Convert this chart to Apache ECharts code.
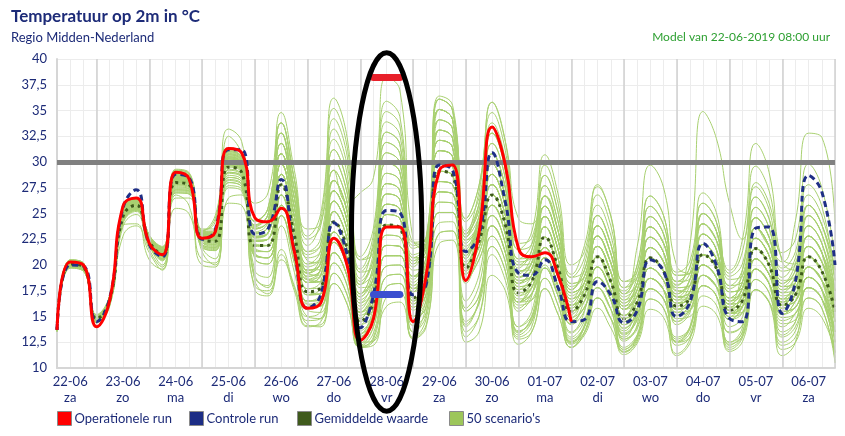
<!DOCTYPE html>
<html><head><meta charset="utf-8">
<script src="https://cdn.jsdelivr.net/npm/echarts@6/dist/echarts.min.js"></script>
<style>html,body{margin:0;padding:0;background:#fff}#c{width:845px;height:436px}</style>
</head><body><div id="c"></div>
<script>
// ---- data ----
const hours = [6,12,18,24,30,36,42,48,54,60,66,72,78,84,90,96,102,108,114,120,126,132,138,144,150,156,162,168,174,180,186,192,198,204,210,216,222,228,234,240,246,252,258,264,270,276,282,288,294,300,306,312,318,324,330,336,342,348,354,360];
const dateLabels = ['22-06','23-06','24-06','25-06','26-06','27-06','28-06','29-06','30-06','01-07','02-07','03-07','04-07','05-07','06-07'];
const dayLabels = ['za','zo','ma','di','wo','do','vr','za','zo','ma','di','wo','do','vr','za'];
const yTicks = [10,12.5,15,17.5,20,22.5,25,27.5,30,32.5,35,37.5,40];
const legendNames = ['Operationele run','Controle run','Gemiddelde waarde',"50 scenario's"];

const operational = [13.7,20.3,20.0, 14.0,16.6,25.7,26.5, 22.1,21.0,29.0,28.4, 22.6,23.2,31.3,30.9, 24.6,24.2,25.5,21.3, 15.8,16.3,22.6,20.0, 12.7,14.8,23.7,23.7, 14.5,19.0,29.2,29.7, 18.5,23.1,33.4,29.7, 21.6,20.8,21.2,19.0, 14.5];
const control = [13.7,20.0,19.9, 14.5,16.8,25.5,27.3, 22.0,20.8,28.8,28.5, 22.5,23.4,31.2,31.2, 23.0,23.5,28.3,21.4, 15.8,17.1,24.1,21.0, 13.9,17.1,25.3,25.1, 17.1,18.1,29.7,29.2, 21.3,22.9,30.9,26.1, 19.2,19.0,20.5,17.8, 14.5,14.7,18.4,17.1, 14.4,15.6,20.5,19.4, 15.0,16.4,22.1,20.0, 14.8,14.5,23.6,23.7, 15.3,18.4,28.7,27.1, 20.0];
const ensembleMean = [13.7,20.1,19.8, 14.8,16.6,24.7,25.8, 22.3,21.0,28.0,27.8, 22.5,22.3,29.5,29.0, 21.9,21.9,27.8,22.9, 17.4,17.8,24.2,21.6, 14.5,16.4,23.9,23.6, 16.8,18.4,29.1,28.7, 19.7,22.3,26.8,23.9, 17.3,18.4,22.7,19.7, 15.5,17.1,20.8,18.4, 14.8,16.4,20.7,19.4, 16.0,16.8,21.0,19.7, 15.6,16.6,21.6,20.0, 16.1,17.1,20.8,19.4, 15.5];

const scen01 = [13.9,20.4,20.1, 15.0,16.9,25.2,26.3, 22.7,21.5,28.8,28.5, 23.2,23.2,31.0,30.4, 23.6,24.3,31.8,26.5, 20.1,20.8,29.2,26.1, 27.0,28.5,38.2,37.0, 22.5,21.4,34.1,33.2, 22.1,24.1,29.8,26.6, 18.8,19.6,24.7,21.5, 16.1,17.1,20.8,18.4, 14.5,15.8,19.7,18.5, 16.0,17.4,22.0,20.6, 16.5,17.8,23.6,21.8, 17.6,18.9,23.8,22.1, 16.5];
const scen02 = [13.6,19.9,19.6, 14.6,16.3,24.2,25.4, 21.9,20.0,27.0,26.9, 21.7,21.4,28.0,27.6, 18.8,18.0,24.8,20.5, 14.6,14.8,20.2,18.0, 12.0,13.0,18.9,19.1, 13.5,15.2,27.1,26.9, 15.5,17.0,23.8,21.2, 13.6,14.5,18.7,16.1, 12.4,14.2,18.8,16.6, 11.8,13.0,17.7,16.7, 12.6,13.9,19.0,17.9, 12.3,13.2,18.6,17.3, 12.2,13.0,16.8,15.8, 11.0];
const scen03 = [13.8,20.3,20.0, 15.0,16.8,25.0,26.1, 22.5,21.3,28.5,28.3, 23.0,22.9,30.5,29.9, 23.7,24.9,32.8,27.4, 21.3,22.6,32.2,28.8, 17.8,18.2,26.9,26.3, 18.9,20.8,33.1,32.3, 22.7,25.9,32.8,29.3, 20.3,20.8,26.7,23.3, 17.3,18.3,22.8,20.2, 15.7,17.0,21.7,20.3, 16.3,16.8,21.0,19.7, 15.3,16.0,20.6,19.1, 16.4,18.3,22.8,21.2, 15.5];
const scen04 = [13.6,19.8,19.5, 14.4,16.0,23.7,24.9, 21.5,19.8,26.5,26.5, 21.3,20.0,26.5,26.8, 19.0,17.8,23.8,19.3, 14.2,14.0,19.2,17.1, 12.5,12.6,17.9,18.2, 12.8,14.0,23.1,23.3, 14.2,16.5,22.8,20.3, 13.4,15.0,20.7,17.9, 13.0,14.6,19.8,17.5, 13.2,14.8,20.7,19.4, 16.3,17.4,22.0,20.6, 16.5,17.8,23.6,21.8, 17.0,17.7,21.8,20.3, 16.5];
const scen05 = [13.8,20.2,19.9, 15.0,17.0,25.3,26.3, 22.8,21.6,29.0,28.7, 23.4,24.2,33.2,32.0, 24.2,25.5,33.8,28.3, 22.8,25.0,36.2,32.4, 20.5,21.2,31.9,30.8, 21.0,22.0,35.1,34.1, 22.4,24.1,29.8,26.6, 18.5,19.0,23.7,20.6, 15.5,16.5,19.8,17.5, 13.9,15.2,18.7,17.6, 15.1,16.2,20.0,18.8, 15.3,16.6,21.6,20.0, 15.5,15.9,18.8,17.6, 13.5];
const scen06 = [13.7,20.1,19.8, 14.9,16.7,24.9,26.0, 22.5,21.2,28.3,28.1, 22.7,22.6,30.0,29.5, 22.7,23.1,29.8,24.7, 18.6,19.0,26.2,23.4, 16.3,18.8,27.9,27.2, 18.9,20.2,32.1,31.4, 23.0,27.1,34.8,31.1, 21.5,22.0,28.7,25.1, 18.2,18.9,23.8,21.1, 16.3,17.6,22.7,21.2, 16.9,17.4,22.0,20.6, 16.8,18.4,24.6,22.7, 18.2,19.5,24.8,23.0, 17.5];
const scen07 = [13.5,19.7,19.4, 14.6,16.4,24.4,25.5, 22.0,20.7,27.5,27.4, 22.0,21.7,28.5,28.1, 21.3,21.3,26.8,22.0, 16.5,16.6,22.2,19.8, 13.0,14.6,20.9,20.9, 14.7,16.0,25.1,25.1, 14.5,16.2,21.8,19.4, 12.8,13.5,17.7,15.2, 12.0,13.5,17.8,15.7, 11.8,13.2,18.7,17.6, 12.5,13.4,18.0,17.0, 12.2,13.6,19.6,18.2, 15.2,16.5,19.8,18.5, 13.5];
const scen08 = [13.9,20.5,20.2, 15.2,17.1,25.5,26.5, 22.9,21.7,29.2,28.9, 23.2,22.9,30.5,29.9, 23.1,23.7,30.8,25.6, 19.5,20.2,28.2,25.2, 18.7,22.4,33.9,32.6, 21.9,22.6,36.1,35.0, 22.4,23.5,28.8,25.7, 17.9,18.4,22.7,19.7, 15.8,17.7,21.8,19.3, 16.0,18.2,23.7,22.1, 18.4,19.8,26.0,24.2, 18.9,20.2,27.6,25.4, 19.4,20.1,25.8,23.9, 18.5];
const scen09 = [13.7,20.0,19.7, 14.7,16.5,24.5,25.6, 22.3,21.1,28.2,28.0, 22.7,22.5,29.8,29.3, 22.3,22.5,28.8,23.8, 17.4,17.2,23.2,20.7, 13.6,15.2,21.9,21.8, 16.5,19.0,30.1,29.6, 20.6,23.5,28.8,25.7, 18.8,20.2,25.7,22.4, 17.6,19.5,24.8,22.0, 17.8,20.0,26.7,24.8, 19.0,19.2,25.0,23.3, 17.4,17.8,23.6,21.8, 16.7,17.1,20.8,19.4, 14.5];
const scen10 = [13.8,20.3,20.0, 15.0,16.8,25.1,26.2, 22.5,21.1,28.2,28.0, 22.4,22.0,29.0,28.6, 21.2,20.7,25.8,21.1, 15.9,16.0,21.2,18.9, 13.3,15.8,22.9,22.7, 15.9,17.2,27.1,26.9, 19.1,22.3,26.8,23.9, 17.6,19.0,23.7,20.6, 16.4,18.3,22.8,20.2, 15.7,17.0,21.7,20.3, 16.3,16.8,21.0,19.7, 15.3,16.0,20.6,19.1, 14.9,15.3,17.8,16.7, 11.5];
const scen11 = [13.9,20.4,20.1, 15.0,16.7,24.9,26.0, 22.5,21.4,28.6,28.3, 23.0,23.0,30.7,30.1, 23.5,24.3,31.8,26.5, 19.5,19.6,27.2,24.3, 17.2,20.0,29.9,29.0, 20.4,22.0,35.1,34.1, 23.0,25.3,31.8,28.4, 19.4,19.6,24.7,21.5, 16.1,17.1,20.8,18.4, 17.5,21.8,29.7,27.5, 19.9,19.2,25.0,23.3, 17.4,17.8,23.6,21.8, 20.3,24.3,32.8,32.4, 24.0];
const scen12 = [13.6,19.9,19.6, 14.6,16.2,24.1,25.3, 21.9,20.5,27.2,27.1, 21.9,21.6,28.3,27.9, 20.9,20.7,25.8,21.1, 16.5,17.2,23.2,20.7, 14.2,16.4,23.9,23.6, 16.5,17.8,28.1,27.8, 18.5,20.5,23.8,21.2, 15.8,17.2,20.7,17.9, 12.5,13.5,16.8,14.8, 11.3,12.4,15.7,14.9, 11.4,12.8,18.0,17.0, 11.6,12.6,17.6,16.4, 11.2,12.5,18.8,17.6, 10.5];
const scen13 = [13.8,20.2,19.9, 14.9,16.7,24.8,25.9, 22.5,21.2,28.4,28.2, 22.9,22.8,30.3,29.7, 22.7,23.1,29.8,24.7, 18.3,18.4,25.2,22.5, 15.4,17.6,25.9,25.4, 18.6,20.8,33.1,32.3, 22.7,25.9,32.8,29.3, 21.5,23.2,30.7,26.9, 20.0,21.3,27.8,24.7, 18.4,19.4,25.7,23.9, 18.4,18.6,24.0,22.4, 16.8,17.2,22.6,20.9, 16.1,16.5,19.8,18.5, 15.5];
const scen14 = [13.7,20.1,19.8, 14.7,16.4,24.4,25.5, 22.2,20.9,27.8,27.6, 22.6,22.7,30.1,29.5, 22.1,21.9,27.8,22.9, 18.3,19.6,27.2,24.3, 16.9,19.4,28.9,28.1, 18.9,19.6,31.1,30.5, 20.0,21.7,25.8,23.0, 16.1,16.6,19.7,17.0, 13.4,14.7,16.8,14.8, 13.0,15.2,18.7,17.6, 15.4,16.8,21.0,19.7, 16.2,17.8,23.6,21.8, 17.9,19.5,24.8,23.0, 18.5];
const scen15 = [13.6,19.8,19.5, 14.5,16.1,23.9,24.0, 20.5,19.6,26.8,25.8, 20.0,19.8,27.5,27.2, 17.6,17.0,21.0,17.5, 14.0,14.5,18.2,16.2, 12.0,12.2,16.9,17.3, 13.5,16.0,25.1,25.1, 13.5,15.0,21.0,18.5, 13.0,14.0,20.0,17.5, 13.5,15.5,21.8,19.3, 13.8,15.5,22.7,21.2, 14.2,15.4,21.0,19.7, 13.4,14.2,19.6,18.2, 13.0,14.0,17.8,16.7, 11.5];
const scen16 = [13.8,20.3,20.0, 15.1,17.0,25.4,26.4, 22.9,21.8,29.3,29.0, 23.5,23.5,32.5,30.8, 24.3,25.5,33.8,28.3, 21.3,22.0,31.2,27.9, 19.3,21.8,32.9,31.7, 20.7,20.8,33.1,32.3, 21.2,22.9,27.8,24.8, 17.3,17.8,21.7,18.8, 14.6,15.9,18.8,16.6, 14.2,16.4,20.7,19.4, 18.0,22.0,34.9,32.3, 26.0,22.5,28.0,26.0, 20.6,20.1,25.8,23.9, 19.5];
const scen17 = [13.7,20.0,19.7, 14.8,16.6,24.7,25.8, 22.2,20.8,27.7,27.5, 22.2,21.8,28.7,28.3, 21.1,20.7,25.8,21.1, 16.2,16.6,22.2,19.8, 13.0,14.6,20.9,20.9, 15.0,16.6,26.1,26.0, 18.2,21.1,24.8,22.1, 16.4,17.8,21.7,18.8, 15.2,17.1,20.8,18.4, 14.5,15.8,19.7,18.5, 15.1,15.6,19.0,17.9, 14.7,16.0,20.6,19.1, 15.8,17.1,20.8,19.4, 16.5];
const scen18 = [13.9,20.4,20.1, 15.0,16.8,25.1,26.2, 22.7,21.5,28.8,28.5, 23.0,22.9,30.5,29.9, 23.1,23.7,30.8,25.6, 20.1,21.4,30.2,27.0, 19.6,23.0,34.9,33.5, 22.2,22.6,36.1,35.0, 24.5,27.7,35.8,32.0, 22.1,22.6,29.7,26.0, 18.8,19.5,24.8,22.0, 16.9,18.2,23.7,22.1, 17.5,18.0,23.0,21.5, 16.2,16.6,21.6,20.0, 15.5,15.9,18.8,17.6, 13.5];
const scen19 = [13.6,19.9,19.6, 14.6,16.4,24.3,25.4, 22.2,21.0,28.0,27.8, 22.6,22.4,29.7,29.2, 21.7,21.3,26.8,22.0, 17.1,17.8,24.2,21.6, 14.8,17.0,24.9,24.5, 17.7,19.6,31.1,30.5, 20.3,22.3,26.8,23.9, 16.7,17.2,20.7,17.9, 12.8,14.0,17.8,15.7, 11.5,12.6,16.7,15.8, 11.2,12.4,16.0,15.2, 11.8,13.0,17.6,16.4, 12.5,13.6,17.8,16.7, 13.5];
const scen20 = [13.7,20.1,19.8, 14.9,16.7,24.9,26.0, 22.5,21.3,28.5,28.3, 22.9,22.8,30.3,29.7, 22.7,23.1,29.8,24.7, 19.2,20.2,28.2,25.2, 16.6,18.2,26.9,26.3, 17.7,18.4,29.1,28.7, 19.1,21.1,24.8,22.1, 16.4,17.8,21.7,18.8, 15.5,17.7,21.8,19.3, 16.0,18.2,23.7,22.1, 18.1,19.2,25.0,23.3, 19.2,21.4,29.6,27.2, 21.2,22.5,29.8,27.5, 20.5];
const scen21 = [13.9,20.5,20.2, 15.1,17.0,25.3,26.3, 22.8,21.6,29.0,28.7, 23.3,23.2,31.0,30.4, 23.9,24.9,32.8,27.4, 23.5,24.0,33.2,29.7, 20.8,23.6,35.9,34.4, 22.2,22.0,35.1,34.1, 23.3,25.9,32.8,29.3, 20.0,20.2,25.7,22.4, 16.7,17.7,21.8,19.3, 15.1,16.4,20.7,19.4, 15.7,16.2,20.0,18.8, 14.7,15.4,19.6,18.2, 14.6,15.3,17.8,16.7, 12.5];
const scen22 = [13.5,19.7,19.4, 14.5,16.2,24.0,25.2, 21.8,20.4,27.0,26.9, 21.7,20.6,27.7,27.4, 18.5,17.2,21.5,18.0, 15.0,15.5,21.2,18.9, 12.4,14.0,19.9,20.0, 14.1,15.4,24.1,24.2, 12.5,13.5,19.0,17.5, 12.3,13.5,17.7,15.2, 12.0,14.0,17.8,15.7, 13.6,15.8,19.7,18.5, 15.7,16.8,21.0,19.7, 15.9,17.2,22.6,20.9, 16.4,17.1,20.8,19.4, 14.5];
const scen23 = [13.8,20.2,19.9, 14.9,16.8,25.0,26.1, 22.6,21.4,28.6,28.3, 22.8,22.5,29.9,29.4, 22.3,22.5,28.8,23.8, 18.3,19.0,26.2,23.4, 15.1,16.4,23.9,23.6, 16.5,17.8,28.1,27.8, 19.7,22.9,27.8,24.8, 18.2,19.6,24.7,21.5, 16.1,17.1,20.8,18.4, 14.2,15.2,18.7,17.6, 15.1,16.2,20.0,18.8, 15.6,17.2,22.6,20.9, 17.3,18.9,23.8,22.1, 17.5];
const scen24 = [13.7,20.0,19.7, 14.8,16.7,24.8,25.9, 22.4,21.1,28.2,28.0, 22.7,22.5,29.8,29.3, 22.3,22.5,28.8,23.8, 19.2,20.8,29.2,26.1, 18.1,20.6,30.9,29.9, 20.7,22.0,35.1,34.1, 22.7,24.7,30.8,27.5, 20.0,21.4,27.7,24.2, 18.8,20.7,26.8,23.8, 17.8,18.8,24.7,23.0, 17.8,18.0,23.0,21.5, 16.2,16.6,21.6,20.0, 15.5,15.9,18.8,17.6, 14.5];
const scen25 = [13.8,20.3,20.0, 15.0,16.9,25.2,26.3, 22.7,21.5,28.9,28.6, 23.2,23.1,30.9,30.3, 23.5,24.3,31.8,26.5, 19.2,19.0,26.2,23.4, 15.4,17.0,24.9,24.5, 18.0,20.2,32.1,31.4, 21.2,23.5,28.8,25.7, 17.9,18.4,22.7,19.7, 14.9,15.9,18.8,16.6, 13.3,14.6,17.7,16.7, 14.5,15.6,19.0,17.9, 16.5,19.6,26.6,24.5, 19.7,21.3,27.8,25.7, 18.5];
const scen26 = [13.6,19.8,19.5, 14.6,16.3,24.2,25.4, 22.0,20.8,27.6,27.4, 22.2,21.9,28.9,28.5, 21.1,20.7,25.8,21.1, 15.6,15.4,20.2,18.0, 12.1,12.8,17.9,18.2, 12.9,14.2,22.1,22.4, 14.0,16.5,23.8,21.2, 14.0,15.5,21.7,18.8, 14.6,15.9,18.8,16.6, 12.0,13.2,16.7,15.8, 12.5,13.8,19.0,17.9, 15.0,16.6,21.6,20.0, 16.4,17.7,21.8,20.3, 15.5];
const scen27 = [13.7,20.1,19.8, 14.7,16.5,24.5,25.6, 22.4,21.2,28.4,28.2, 22.8,22.7,30.2,29.6, 23.0,23.7,30.8,25.6, 18.6,18.4,25.2,22.5, 14.2,15.2,21.9,21.8, 16.2,18.4,29.1,28.7, 20.6,24.1,29.8,26.6, 19.7,21.4,27.7,24.2, 17.9,18.9,23.8,21.1, 16.0,17.0,21.7,20.3, 17.2,18.6,24.0,22.4, 17.7,19.0,25.6,23.6, 17.9,18.3,22.8,21.2, 16.5];
const scen28 = [13.9,20.4,20.1, 15.0,16.9,25.2,26.3, 22.7,21.4,28.7,28.4, 23.0,23.0,30.6,30.0, 22.8,23.1,29.8,24.7, 18.9,19.6,27.2,24.3, 17.2,20.0,29.9,29.0, 20.1,21.4,34.1,33.2, 21.2,22.3,26.8,23.9, 16.4,16.6,19.7,17.0, 14.3,16.5,19.8,17.5, 15.1,17.6,22.7,21.2, 16.9,17.4,22.0,20.6, 15.3,15.4,19.6,18.2, 14.3,14.7,16.8,15.8, 10.5];
const scen29 = [13.6,19.9,19.6, 14.7,16.4,24.4,25.5, 22.0,20.6,27.3,27.2, 22.0,21.7,28.5,28.1, 20.7,20.1,24.8,20.2, 15.0,14.8,19.2,17.1, 12.2,14.0,19.9,20.0, 15.0,17.2,27.1,26.9, 19.4,22.9,27.8,24.8, 18.2,19.6,24.7,21.5, 16.1,17.1,20.8,18.4, 14.5,15.8,19.7,18.5, 16.0,17.4,22.0,20.6, 16.8,18.4,24.6,22.7, 17.3,17.7,21.8,20.3, 15.5];
const scen30 = [13.8,20.2,19.9, 15.0,16.8,25.1,26.2, 22.5,21.2,28.3,28.1, 22.9,22.8,30.4,29.8, 22.8,23.1,29.8,24.7, 19.2,20.2,28.2,25.2, 18.1,21.2,31.9,30.8, 21.6,22.8,36.4,35.5, 24.2,26.5,33.8,30.2, 20.6,20.8,26.7,23.3, 17.3,18.3,22.8,20.2, 16.3,18.2,23.7,22.1, 18.4,19.8,26.0,24.2, 18.0,18.4,24.6,22.7, 17.6,18.3,22.8,21.2, 16.5];
const scen31 = [13.8,20.3,20.0, 14.9,16.7,24.8,25.9, 22.3,21.0,28.0,27.8, 22.4,22.1,29.2,28.7, 21.5,21.3,26.8,22.0, 16.5,16.6,22.2,19.8, 13.3,15.2,21.9,21.8, 16.2,18.4,29.1,28.7, 20.9,24.7,30.8,27.5, 19.4,20.2,25.7,22.4, 16.7,17.7,21.8,19.3, 14.8,15.8,19.7,18.5, 14.8,15.0,18.0,17.0, 13.5,14.2,17.6,16.4, 14.0,15.3,17.8,16.7, 13.5];
const scen32 = [13.7,20.0,19.7, 14.9,16.8,25.0,26.1, 22.6,21.4,28.6,28.3, 23.1,23.1,30.8,30.2, 23.8,24.9,32.8,27.4, 21.0,22.0,31.2,27.9, 18.1,19.4,28.9,28.1, 18.9,19.6,31.1,30.5, 20.0,21.7,25.8,23.0, 16.4,17.2,20.7,17.9, 14.9,17.1,20.8,18.4, 15.1,17.0,21.7,20.3, 16.3,16.8,21.0,19.7, 15.3,16.0,20.6,19.1, 16.1,17.7,21.8,20.3, 15.5];
const scen33 = [13.9,20.4,20.1, 15.1,17.0,25.3,26.3, 22.8,21.7,29.1,28.8, 23.3,24.8,31.2,30.5, 26.0,27.0,34.8,29.2, 22.5,23.8,34.2,30.6, 19.3,20.0,29.9,29.0, 19.5,20.2,32.1,31.4, 21.2,23.5,28.8,25.7, 18.2,19.0,23.7,20.6, 16.7,18.9,23.8,21.1, 17.2,19.4,25.7,23.9, 19.3,20.4,27.0,25.1, 18.6,19.0,25.6,23.6, 17.9,18.3,22.8,21.2, 17.5];
const scen34 = [13.6,19.8,19.5, 14.5,16.2,24.1,25.3, 21.9,20.5,27.1,27.0, 21.8,21.4,28.0,27.6, 20.6,20.1,24.8,20.2, 15.9,16.6,22.2,19.8, 13.0,14.6,20.9,20.9, 14.7,16.0,25.1,25.1, 15.8,18.0,24.8,22.1, 14.0,15.0,18.7,16.1, 12.0,13.2,15.8,13.9, 11.6,13.0,17.7,16.7, 13.0,14.0,20.0,18.8, 12.5,13.5,19.6,18.2, 11.8,12.5,15.8,14.9, 11.5];
const scen35 = [13.7,20.1,19.8, 14.8,16.7,24.8,25.9, 22.4,21.1,28.2,28.0, 22.7,22.6,30.0,29.5, 22.4,22.5,28.8,23.8, 18.6,19.6,27.2,24.3, 16.0,17.6,25.9,25.4, 17.7,19.0,30.1,29.6, 19.7,21.7,25.8,23.0, 17.0,18.4,22.7,19.7, 16.1,18.3,22.8,20.2, 16.6,18.8,24.7,23.0, 17.8,18.0,23.0,21.5, 15.9,16.0,20.6,19.1, 15.2,15.9,18.8,17.6, 12.5];
const scen36 = [13.8,20.3,20.0, 15.0,16.8,25.0,26.1, 22.5,21.3,28.5,28.3, 22.8,22.7,30.1,29.5, 22.4,22.5,28.8,23.8, 17.7,17.8,24.2,21.6, 14.8,17.0,24.9,24.5, 17.7,19.6,31.1,30.5, 21.2,24.1,29.8,26.6, 18.5,19.0,23.7,20.6, 15.5,16.5,19.8,17.5, 14.5,16.4,20.7,19.4, 16.6,18.0,23.0,21.5, 16.5,17.2,22.6,20.9, 16.4,17.1,20.8,19.4, 15.5];
const scen37 = [13.6,19.9,19.6, 14.7,16.5,24.6,25.7, 22.3,21.1,28.1,27.9, 22.5,22.2,29.3,28.8, 21.8,21.9,27.8,22.9, 17.1,17.2,23.2,20.7, 14.8,17.6,25.9,25.4, 18.3,20.2,32.1,31.4, 20.9,22.9,27.8,24.8, 17.6,18.4,22.7,19.7, 15.8,17.7,21.8,19.3, 15.7,17.6,22.7,21.2, 16.6,16.8,21.0,19.7, 15.0,15.4,19.6,18.2, 15.2,16.5,19.8,18.5, 16.5];
const scen38 = [13.8,20.2,19.9, 15.0,16.9,25.2,26.3, 22.7,21.5,28.8,28.5, 23.1,23.0,30.7,30.1, 23.2,24.1,30.8,25.6, 19.8,20.8,29.2,26.1, 17.2,18.8,27.9,27.2, 19.8,22.0,35.1,34.1, 23.0,25.3,31.8,28.4, 20.6,22.0,28.7,25.1, 18.2,18.9,23.8,21.1, 15.7,16.4,20.7,19.4, 15.4,15.6,19.0,17.9, 14.7,16.0,20.6,19.1, 16.1,17.7,21.8,20.3, 17.5];
const scen39 = [13.7,20.0,19.7, 14.7,16.4,24.3,25.4, 22.0,20.6,27.4,27.3, 22.2,22.0,29.0,28.6, 19.5,18.8,26.8,22.0, 16.2,16.0,21.2,18.9, 12.1,13.4,18.9,19.1, 14.4,16.6,26.1,26.0, 16.5,19.0,25.8,23.0, 15.5,17.0,23.7,20.6, 14.2,15.6,20.8,18.4, 12.8,14.0,18.7,17.6, 12.5,13.0,17.0,16.1, 12.0,13.2,18.6,17.3, 13.2,14.5,19.8,18.5, 14.5];
const scen40 = [13.9,20.4,20.1, 15.1,17.0,25.4,26.4, 22.9,21.7,29.2,28.9, 23.3,23.3,31.1,30.4, 23.9,24.9,32.8,27.4, 20.7,21.4,30.2,27.0, 18.4,20.6,30.9,29.9, 20.4,21.4,34.1,33.2, 21.8,23.5,28.8,25.7, 18.8,20.2,25.7,22.4, 17.6,19.5,24.8,22.0, 16.6,17.6,22.7,21.2, 16.9,17.4,22.0,20.6, 16.8,18.4,24.6,22.7, 18.8,20.7,26.8,24.8, 19.5];
const scen41 = [13.7,20.1,19.8, 14.8,16.6,24.7,25.8, 22.2,20.9,27.8,27.6, 22.4,22.3,29.5,29.0, 21.9,21.9,27.8,22.9, 17.7,18.4,25.2,22.5, 15.7,18.2,26.9,26.3, 18.0,19.0,30.1,29.6, 20.0,22.3,26.8,23.9, 17.0,17.8,21.7,18.8, 15.5,17.7,21.8,19.3, 15.1,16.4,20.7,19.4, 15.7,16.2,20.0,18.8, 15.3,16.6,21.6,20.0, 16.7,18.3,22.8,21.2, 15.5];
const scen42 = [13.6,19.8,19.5, 14.4,16.1,22.8,23.8, 21.2,19.5,25.5,25.0, 20.5,20.2,26.0,25.8, 18.0,17.5,20.5,17.8, 14.1,14.2,18.2,16.2, 12.0,12.6,16.0,16.4, 13.0,14.8,23.1,23.3, 13.0,15.0,21.8,19.4, 13.2,14.5,19.7,17.0, 12.5,14.0,19.8,17.5, 12.6,14.2,21.7,20.3, 14.5,16.0,23.0,21.5, 14.0,15.0,21.6,20.0, 13.5,14.5,18.8,17.6, 12.5];
const scen43 = [13.8,20.3,20.0, 15.0,16.8,25.1,26.2, 22.6,21.4,28.7,28.4, 23.1,23.1,30.8,30.2, 23.5,24.3,31.8,26.5, 21.9,24.4,35.2,31.5, 20.5,21.8,32.9,31.7, 20.7,20.8,33.1,32.3, 21.2,22.9,27.8,24.8, 18.2,19.6,24.7,21.5, 17.6,20.1,25.8,22.9, 17.2,18.2,23.7,22.1, 16.9,16.8,21.0,19.7, 15.9,17.2,22.6,20.9, 16.1,16.5,19.8,18.5, 15.5];
const scen44 = [13.7,20.0,19.7, 14.8,16.7,24.9,26.0, 22.5,21.2,28.3,28.1, 22.7,22.5,29.9,29.4, 22.6,23.1,29.8,24.7, 18.3,18.4,25.2,22.5, 14.5,15.8,22.9,22.7, 15.9,17.2,27.1,26.9, 15.5,17.0,22.8,20.3, 13.5,14.8,19.7,17.0, 12.6,14.0,18.8,16.6, 13.4,15.0,20.7,19.4, 16.9,18.6,24.0,22.4, 18.0,19.6,26.6,24.5, 18.5,18.9,23.8,22.1, 16.5];
const scen45 = [13.8,20.2,19.9, 14.8,16.5,24.5,25.6, 22.2,20.9,27.9,27.7, 22.5,22.4,29.6,29.1, 21.9,21.9,27.8,22.9, 17.1,17.2,23.2,20.7, 13.3,14.6,20.9,20.9, 15.6,17.8,28.1,27.8, 20.0,23.5,28.8,25.7, 19.1,20.8,26.7,23.3, 19.1,21.9,27.6,24.8, 18.4,18.8,24.7,23.0, 17.5,17.4,22.0,20.6, 15.6,16.0,20.6,19.1, 15.8,17.1,20.8,19.4, 17.5];
const scen46 = [13.8,20.3,20.0, 15.0,16.8,25.0,26.1, 22.5,21.2,28.4,28.2, 22.9,22.8,30.4,29.8, 23.1,23.7,30.8,25.6, 19.5,20.2,28.2,25.2, 16.9,18.8,27.9,27.2, 20.1,22.6,36.1,35.0, 24.5,27.7,35.8,32.0, 24.5,24.0,26.7,23.3, 17.3,18.3,22.8,20.2, 15.7,17.0,21.7,20.3, 17.2,18.6,24.0,22.4, 19.5,22.6,31.8,29.0, 20.3,19.5,24.8,23.0, 17.5];
const scen47 = [13.6,19.9,19.6, 14.6,16.3,24.2,25.4, 21.9,20.6,27.3,27.2, 21.9,21.5,28.2,27.8, 20.9,20.7,25.8,21.1, 15.9,16.0,21.2,18.9, 13.0,15.2,21.9,21.8, 16.5,19.0,30.1,29.6, 20.9,24.1,29.8,26.6, 18.8,19.6,24.7,21.5, 16.1,17.1,20.8,18.4, 12.8,13.8,18.7,17.6, 12.2,13.0,18.0,17.0, 12.5,14.0,21.6,20.0, 16.7,18.3,22.8,21.2, 14.5];
const scen48 = [13.9,20.5,20.2, 15.1,17.0,25.3,26.3, 22.8,21.5,28.9,28.6, 23.3,24.5,31.4,30.7, 24.3,25.5,33.8,28.3, 20.4,20.2,28.2,25.2, 16.3,17.6,25.9,25.4, 17.4,18.4,29.1,28.7, 19.4,21.7,25.8,23.0, 16.4,17.2,20.7,17.9, 12.3,13.4,16.8,14.8, 11.6,12.8,17.7,16.7, 12.8,14.0,20.0,18.8, 15.6,17.2,22.6,20.9, 16.1,16.5,19.8,18.5, 12.5];
const scen49 = [13.7,20.1,19.8, 14.9,16.7,24.9,26.0, 22.4,21.1,28.1,27.9, 22.6,22.4,29.7,29.2, 22.3,22.5,28.8,23.8, 18.3,19.0,26.2,23.4, 15.4,17.0,24.9,24.5, 16.8,17.8,28.1,27.8, 18.5,20.5,23.8,21.2, 16.4,18.4,22.7,19.7, 15.8,17.7,21.8,19.3, 14.8,15.8,19.7,18.5, 15.7,16.8,21.0,19.7, 16.2,17.8,23.6,21.8, 18.2,20.1,25.8,23.9, 19.5];
const scen50 = [13.6,19.9,19.6, 14.7,16.6,24.7,25.8, 22.4,21.2,28.3,28.1, 22.8,22.8,30.3,29.7, 22.7,23.1,29.8,24.7, 18.9,19.6,27.2,24.3, 15.4,16.4,23.9,23.6, 17.4,19.6,31.1,30.5, 21.5,24.7,30.8,27.5, 19.4,20.2,25.7,22.4, 17.0,18.3,22.8,20.2, 17.2,20.0,26.7,24.8, 19.0,19.2,25.0,23.3, 17.4,17.8,23.6,21.8, 16.7,17.1,20.8,19.4, 14.5];
const scenarios = [scen01,scen02,scen03,scen04,scen05,scen06,scen07,scen08,scen09,scen10,scen11,scen12,scen13,scen14,scen15,scen16,scen17,scen18,scen19,scen20,scen21,scen22,scen23,scen24,scen25,scen26,scen27,scen28,scen29,scen30,scen31,scen32,scen33,scen34,scen35,scen36,scen37,scen38,scen39,scen40,scen41,scen42,scen43,scen44,scen45,scen46,scen47,scen48,scen49,scen50];

const midnights = [24,48,72,96,120,144,168,192,216,240,264,288,312,336,360];
const thresholdValue = 30;
const opsMaxMarker = {from:150, to:162, value:38.2};
const ctrlMarker = {from:150, to:162, value:17.2};

// ---- chart ----
const NAVY = '#1d2b78';
const FONT = 'Lato, "Noto Sans", sans-serif';
const chart = echarts.init(document.getElementById('c'), null, {renderer:'canvas'});
const pair = arr => arr.map((v,i)=>[hours[i], v]);

const series = [];
series.push({
  type:'line', data:[], silent:true, z:1, symbol:'none',
  markLine:{silent:true, symbol:['none','none'], label:{show:false},
    lineStyle:{color:'#d0d0d0', width:1.5, type:'solid'},
    data: midnights.map(h=>({xAxis:h}))}
});
scenarios.forEach(s=>{
  series.push({type:'line', name:legendNames[3], data:pair(s), smooth:true, symbol:'none', silent:true, z:2,
    lineStyle:{color:'#a8d070', width:1}, itemStyle:{color:'#9dc65a'}});
});
series.push({
  type:'line', data:[], silent:true, z:3, symbol:'none',
  markLine:{silent:true, symbol:['none','none'], label:{show:false},
    lineStyle:{color:'#808080', width:5, type:'solid'},
    data:[{yAxis:thresholdValue}]}
});
series.push({type:'line', name:legendNames[2], data:pair(ensembleMean), smooth:true, symbol:'none', z:4,
  lineStyle:{color:'#3d5a1b', width:3, type:[3,4]}, itemStyle:{color:'#3f5a1c'}});
series.push({type:'line', name:legendNames[1], data:pair(control), smooth:true, symbol:'none', z:5,
  lineStyle:{color:'#1f2f86', width:3, type:[6,4]}, itemStyle:{color:'#1c2d85'}});
series.push({type:'line', name:legendNames[0], data:pair(operational), smooth:true, symbol:'none', z:6,
  lineStyle:{color:'#ff0000', width:3}, itemStyle:{color:'#ff0000'},
  markLine:{silent:true, symbol:['none','none'], label:{show:false}, z:10,
    data:[
      [{coord:[opsMaxMarker.from, opsMaxMarker.value], lineStyle:{color:'#e8202a', width:7, cap:'round'}},
       {coord:[opsMaxMarker.to, opsMaxMarker.value]}],
      [{coord:[ctrlMarker.from, ctrlMarker.value], lineStyle:{color:'#3b4fd0', width:7, cap:'round'}},
       {coord:[ctrlMarker.to, ctrlMarker.value]}]
    ]}
});

const legendLefts = [57, 189, 297, 449];
const legends = legendNames.map((n,i)=>({
  left:legendLefts[i], top:411, icon:'rect', itemWidth:14, itemHeight:14, itemGap:0, padding:0,
  data:[n], selectedMode:false,
  itemStyle:{borderColor:'#8a8a8a', borderWidth:1},
  textStyle:{fontFamily:FONT, fontSize:13, color:NAVY, padding:[0,0,0,-2]}
}));

chart.setOption({
  animation:false,
  textStyle:{fontFamily:FONT},
  title:[
    {text:'Temperatuur op 2m in °C', left:6, top:3, textStyle:{fontFamily:FONT, fontSize:17, fontWeight:'bold', color:NAVY}},
    {text:'Regio Midden-Nederland', left:6, top:26, textStyle:{fontFamily:FONT, fontSize:13, fontWeight:'normal', color:NAVY}},
    {text:'Model van 22-06-2019 08:00 uur', right:10, top:26, textStyle:{fontFamily:FONT, fontSize:12, fontWeight:'normal', color:'#2ea032'}}
  ],
  legend:legends,
  grid:{left:57, right:10, top:59, bottom:68, containLabel:false},
  xAxis:{
    type:'value', min:6, max:360, interval:6,
    axisLine:{show:true, lineStyle:{color:'#d6d6d6', width:2}},
    axisTick:{show:false},
    splitLine:{show:true, lineStyle:{color:'#ececec', width:1}},
    axisLabel:{
      show:true, color:NAVY, fontSize:13, fontFamily:FONT, lineHeight:16, margin:6,
      showMinLabel:true, showMaxLabel:true,
      formatter:function(v){
        if ((v-12) % 24 !== 0) return '';
        const k = (v-12)/24;
        if (k<0 || k>=dateLabels.length) return '';
        return dateLabels[k] + '\n' + dayLabels[k];
      }
    }
  },
  yAxis:{
    type:'value', min:yTicks[0], max:yTicks[yTicks.length-1], interval:2.5,
    axisLine:{show:true, lineStyle:{color:'#d6d6d6', width:2}},
    axisTick:{show:false},
    splitLine:{show:true, lineStyle:{color:'#ececec', width:1}},
    axisLabel:{color:NAVY, fontSize:13, fontFamily:FONT, margin:10,
      formatter:v=>String(v).replace('.', ',')}
  },
  series:series
});

// annotation ellipse around 28-06
const c = chart.convertToPixel({gridIndex:0}, [156, 23.2]);
const r = chart.convertToPixel({gridIndex:0}, [172, 40.6]);
chart.setOption({graphic:[{type:'ellipse', z:100, silent:true,
  shape:{cx:c[0], cy:c[1], rx:Math.abs(r[0]-c[0]), ry:Math.abs(c[1]-r[1])},
  style:{fill:'none', stroke:'#000', lineWidth:5}}]});
</script>
</body></html>
